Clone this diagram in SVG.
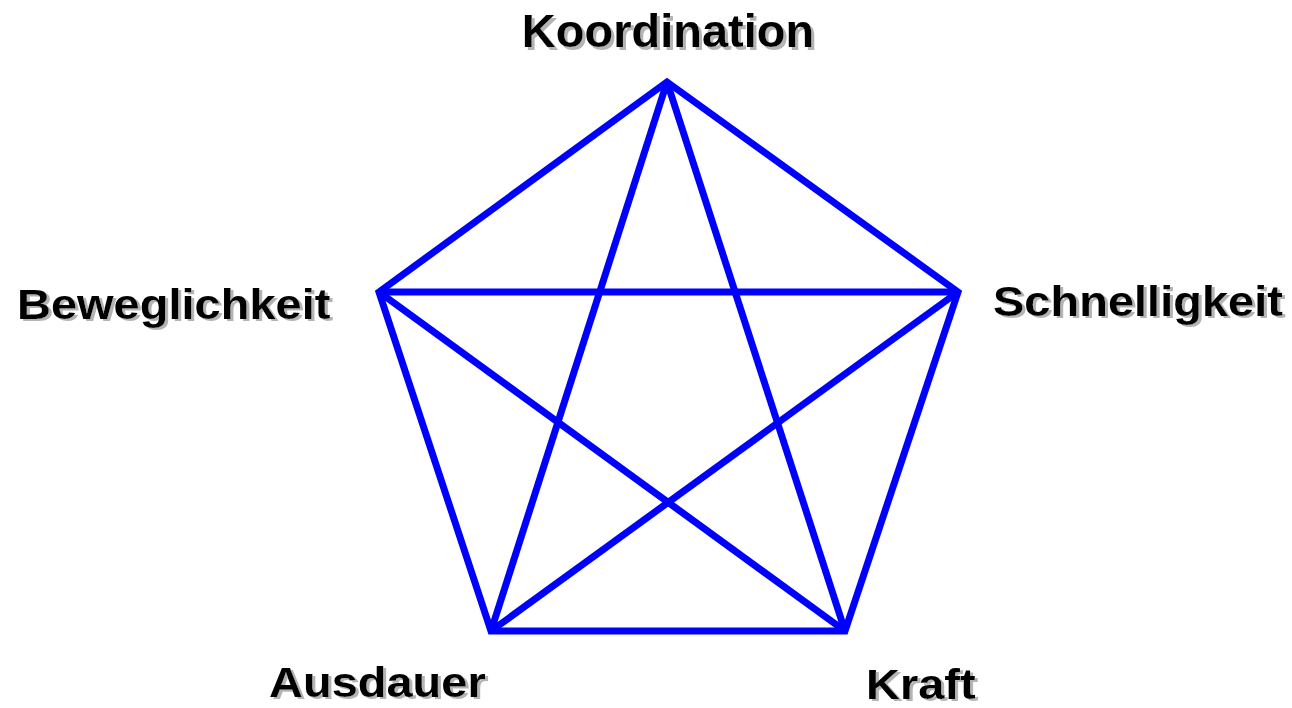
<svg xmlns="http://www.w3.org/2000/svg" width="1292" height="708" viewBox="0 0 1292 708">
<style>
.lbl{font-family:"Liberation Sans",Arial,sans-serif;font-weight:bold;font-size:47px;fill:#000;filter:url(#sh)}
.edge{stroke:#0000ff;stroke-width:7;fill:none;stroke-linejoin:miter}
</style>
<defs>
<filter id="sh" x="-10%" y="-30%" width="120%" height="160%">
<feFlood flood-color="#b4b4b4" result="c"/>
<feComposite in="c" in2="SourceAlpha" operator="in" result="s"/>
<feOffset in="s" dx="2.5" dy="2.5" result="o"/>
<feGaussianBlur in="o" stdDeviation="0.6" result="b"/>
<feMerge><feMergeNode in="b"/><feMergeNode in="SourceGraphic"/></feMerge>
</filter>
</defs>
<rect width="1292" height="708" fill="#fff"/>
<g id="connectors">
<path class="edge" d="M667,82 L958,292 L845,631 L491,631 L379,292 Z"/>
<line class="edge" x1="667" y1="82" x2="491" y2="631"/>
<line class="edge" x1="667" y1="82" x2="845" y2="631"/>
<line class="edge" x1="379" y1="292" x2="958" y2="292"/>
<line class="edge" x1="379" y1="292" x2="845" y2="631"/>
<line class="edge" x1="958" y1="292" x2="491" y2="631"/>
</g>
<g id="koordination"><text class="lbl" x="668" y="47" text-anchor="middle">Koordination</text></g>
<g id="beweglichkeit"><text class="lbl" transform="translate(17,319) scale(1,0.9)">Beweglichkeit</text></g>
<g id="schnelligkeit"><text class="lbl" transform="translate(993,316) scale(1,0.9)">Schnelligkeit</text></g>
<g id="ausdauer"><text class="lbl" transform="translate(269,697) scale(1,0.9)">Ausdauer</text></g>
<g id="kraft"><text class="lbl" transform="translate(866,699) scale(1,0.9)">Kraft</text></g>
</svg>
